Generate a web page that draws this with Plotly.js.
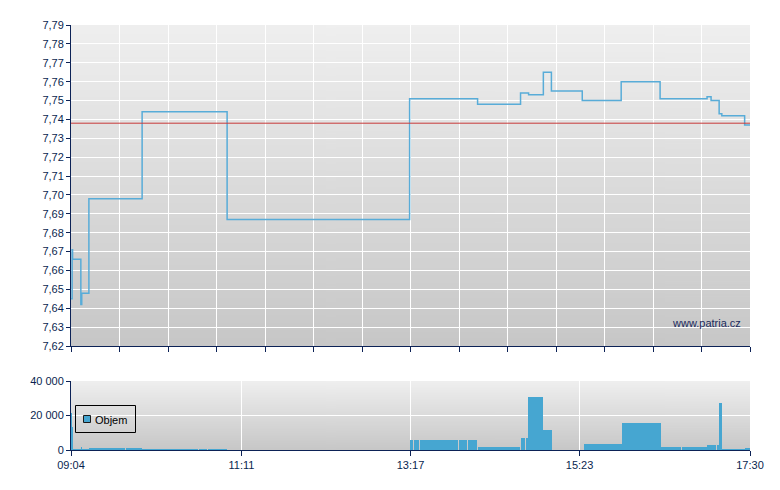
<!DOCTYPE html>
<html>
<head>
<meta charset="utf-8">
<script src="https://cdn.plot.ly/plotly-3.0.1.min.js"></script>
<style>html,body{margin:0;padding:0;background:#fff;}#chart{width:780px;height:490px;}</style>
</head>
<body>
<div id="chart"></div>
<script>
// ---- data ----
const day = '2024-01-02 ';
const sessionStart = '09:04:00';
const sessionEnd = '17:30:00';

const priceTimes = ['09:04:00','09:04:50','09:05:10','09:11:20','09:12:00','09:17:20','09:57:00','11:00:20','13:16:20','14:07:00','14:39:00','14:45:00','14:56:00','15:02:00','15:25:00','15:54:00','16:23:00','16:58:00','17:01:00','17:07:00','17:09:00','17:26:00','17:30:00'];
const priceValues = [7.645,7.671,7.666,7.642,7.648,7.698,7.744,7.687,7.751,7.748,7.754,7.753,7.765,7.755,7.750,7.760,7.751,7.752,7.750,7.743,7.742,7.737,7.737];

const prevClose = 7.738;

const volStart = ['09:04:00','09:04:31','09:05:16','09:11:41','09:12:12','09:17:25','09:44:46','09:56:41','10:39:23','10:46:06','13:16:38','13:19:37','13:24:05','13:52:55','13:59:38','14:02:19','14:07:05','14:39:21','14:43:04','14:44:47','14:55:31','14:58:12','15:26:31','15:54:36','16:23:26','16:39:19','16:57:44','17:01:41','17:05:25','17:06:54','17:08:55','17:26:16'];
const volEnd = ['09:04:31','09:05:16','09:11:41','09:12:12','09:17:25','09:44:14','09:56:41','10:38:25','10:45:21','11:00:15','13:18:52','13:23:20','13:52:24','13:59:06','14:01:52','14:06:20','14:38:36','14:42:20','14:44:47','14:55:31','14:57:45','15:02:27','15:54:36','16:23:26','16:38:34','16:57:44','17:01:41','17:04:53','17:06:54','17:08:55','17:26:16','17:29:47'];
const volValues = [21600,13500,750,1500,750,1300,1300,600,600,600,5800,5800,5800,5800,5800,5800,1700,6960,6960,30900,11600,11600,3600,15650,1800,1800,2700,3000,3000,27400,700,1300];

const timeLabels = ['09:04','11:11','13:17','15:23','17:30'];
const priceTicks = [7.62,7.79,0.01]; // min, max, step
const volTicks = [0,40000,20000];
const legendName = 'Objem';
const watermark = 'www.patria.cz';

// ---- helpers ----
const secs = s => { const p = s.split(':').map(Number); return p[0]*3600 + p[1]*60 + (p[2]||0); };
const d = s => day + (s.length === 5 ? s + ':00' : s);

function gradient(top, bottom) {
  const c = document.createElement('canvas');
  c.width = 4; c.height = 256;
  const g = c.getContext('2d');
  const gr = g.createLinearGradient(0,0,0,256);
  gr.addColorStop(0, top); gr.addColorStop(1, bottom);
  g.fillStyle = gr; g.fillRect(0,0,4,256);
  return c.toDataURL('image/png');
}

const W = 780, H = 490, ML = 71, MR = 30;
const PW = W - ML - MR;
const px = v => (v - ML) / PW;     // pixel x -> paper x
const py = v => 1 - v / H;         // pixel y -> paper y
const topDomain = [py(346), py(25)];
const botDomain = [py(450), py(381)];

const navy = '#0c2256';
const textNavy = '#0a1f50';
const font = {family: 'Liberation Sans, Arial, sans-serif', size: 11, color: textNavy};
const barColor = '#46a6d1';

const range = [d(sessionStart), d(sessionEnd)];
const nTopIntervals = 14;
const topDtick = (secs(sessionEnd) - secs(sessionStart)) * 1000 / nTopIntervals;

const traces = [
  {
    type: 'scatter', mode: 'lines', xaxis: 'x', yaxis: 'y',
    x: priceTimes.map(d), y: priceValues,
    line: {shape: 'hv', color: '#58acd8', width: 1.5},
    showlegend: false, hoverinfo: 'skip'
  },
  {
    type: 'scatter', mode: 'lines', xaxis: 'x', yaxis: 'y',
    x: [d(sessionStart), d(sessionEnd)], y: [prevClose, prevClose],
    line: {color: '#c83a3a', width: 1},
    showlegend: false, hoverinfo: 'skip'
  },
  {
    type: 'bar', xaxis: 'x2', yaxis: 'y2', name: legendName,
    x: volStart.map(d), y: volValues,
    width: volStart.map((s,i) => (secs(volEnd[i]) - secs(s)) * 1000),
    offset: 0,
    marker: {color: barColor, line: {width: 0}},
    showlegend: false, hoverinfo: 'skip'
  }
];

const axisCommon = {
  ticks: 'outside', tickcolor: navy, tickwidth: 1,
  showline: true, linecolor: navy, linewidth: 1,
  showgrid: true, gridcolor: '#ffffff', gridwidth: 1, zeroline: false,
  tickfont: {family: font.family, size: 11, color: textNavy},
  fixedrange: true
};

const layout = {
  width: W, height: H,
  margin: {l: ML, r: MR, t: 0, b: 0, pad: 0},
  paper_bgcolor: '#ffffff',
  plot_bgcolor: 'rgba(0,0,0,0)',
  separators: ', ',
  font: font,
  showlegend: false,
  bargap: 0,
  xaxis: Object.assign({}, axisCommon, {
    type: 'date', range: range, domain: [0,1], anchor: 'y',
    tick0: d(sessionStart), dtick: topDtick, showticklabels: false, ticklen: 5
  }),
  yaxis: Object.assign({}, axisCommon, {
    range: [priceTicks[0], priceTicks[1]], domain: topDomain, anchor: 'x',
    tick0: priceTicks[0], dtick: priceTicks[2], tickformat: '.2f', ticklen: 4
  }),
  xaxis2: Object.assign({}, axisCommon, {
    type: 'date', range: range, domain: [0,1], anchor: 'y2',
    tickvals: timeLabels.map(d), ticktext: timeLabels, ticklen: 5
  }),
  yaxis2: Object.assign({}, axisCommon, {
    range: [volTicks[0], volTicks[1]], domain: botDomain, anchor: 'x2',
    tick0: 0, dtick: volTicks[2], tickformat: ',.0f', ticklen: 4
  }),
  images: [
    {source: gradient('#efefef', '#c7c7c7'), xref: 'paper', yref: 'paper',
     x: 0, y: topDomain[1], sizex: 1, sizey: topDomain[1]-topDomain[0],
     xanchor: 'left', yanchor: 'top', sizing: 'stretch', layer: 'below'},
    {source: gradient('#efefef', '#c7c7c7'), xref: 'paper', yref: 'paper',
     x: 0, y: botDomain[1], sizex: 1, sizey: botDomain[1]-botDomain[0],
     xanchor: 'left', yanchor: 'top', sizing: 'stretch', layer: 'below'}
  ],
  // legend box drawn as in the original (compact box with square swatch)
  shapes: [
    {type: 'rect', xref: 'paper', yref: 'paper', layer: 'above',
     x0: px(75.5), x1: px(135.5), y0: py(432.5), y1: py(405.5),
     line: {color: '#000000', width: 1}, fillcolor: 'rgba(0,0,0,0)'},
    {type: 'rect', xref: 'paper', yref: 'paper', layer: 'above',
     x0: px(83.5), x1: px(90.5), y0: py(422.5), y1: py(415.5),
     line: {color: '#1a1a1a', width: 1}, fillcolor: barColor}
  ],
  annotations: [
    {text: watermark, xref: 'paper', yref: 'paper', x: px(743), y: py(323),
     xanchor: 'right', yanchor: 'middle', showarrow: false,
     font: {family: font.family, size: 11, color: '#1a2a5c'}},
    {text: legendName, xref: 'paper', yref: 'paper', x: px(93), y: py(419.5),
     xanchor: 'left', yanchor: 'middle', showarrow: false,
     font: {family: font.family, size: 11, color: '#000000'}}
  ]
};

Plotly.newPlot('chart', traces, layout, {staticPlot: true, displayModeBar: false});
</script>
</body>
</html>
